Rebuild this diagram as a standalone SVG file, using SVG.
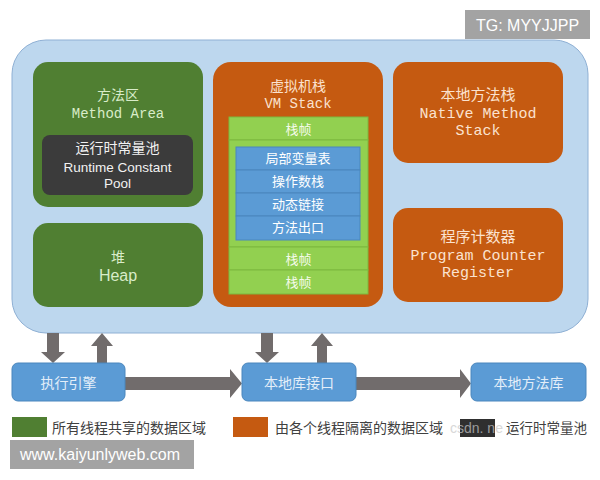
<svg xmlns="http://www.w3.org/2000/svg" width="600" height="480" viewBox="0 0 600 480">
<style>
.cjk{font-family:"Noto Sans CJK SC","Noto Sans",sans-serif;}
.mono{font-family:"Liberation Mono","DejaVu Sans Mono","Noto Sans CJK SC",monospace;}
.sans{font-family:"Liberation Sans","Noto Sans CJK SC",sans-serif;}
.green{fill:#507f32;}
.orange{fill:#c55a11;}
.gtxt{fill:#d9ecc9;}
.otxt{fill:#fbe2cf;}
.blue{fill:#5b9bd5;stroke:#4a86bd;stroke-width:1;}
.lg{fill:#92d050;stroke:#7cb83e;stroke-width:1;}
.arrow{fill:#716c6c;}
.wm{fill:#a3a3a3;}
</style>
<rect width="600" height="480" fill="#ffffff"/>
<g id="tg">
<rect x="465" y="10" width="125" height="29" class="wm"/>
<text x="527.5" y="31" text-anchor="middle" class="sans" font-size="16" fill="#ffffff">TG: MYYJJPP</text>
</g>
<g id="runtime-area">
<rect x="12" y="40" width="576" height="293" rx="34" fill="#bdd7ee" stroke="#8fb0d4" stroke-width="1"/>
</g>
<g id="method-area">
<rect x="33" y="62" width="170" height="145" rx="15" class="green"/>
<text x="118" y="100" text-anchor="middle" class="cjk gtxt" font-size="14">方法区</text>
<text x="118" y="118" text-anchor="middle" class="mono gtxt" font-size="14">Method Area</text>
</g>
<g id="constant-pool">
<rect x="42" y="135" width="151" height="60" rx="8" fill="#3b3b3b"/>
<text x="117.5" y="153" text-anchor="middle" class="cjk" font-size="14" fill="#f2f2f2">运行时常量池</text>
<text x="117.5" y="172" text-anchor="middle" class="sans" font-size="13.5" fill="#f2f2f2">Runtime Constant</text>
<text x="117.5" y="188" text-anchor="middle" class="sans" font-size="13.5" fill="#f2f2f2">Pool</text>
</g>
<g id="heap">
<rect x="33" y="223" width="170" height="84" rx="15" class="green"/>
<text x="118" y="262" text-anchor="middle" class="cjk gtxt" font-size="14">堆</text>
<text x="118" y="281" text-anchor="middle" class="sans gtxt" font-size="16">Heap</text>
</g>
<g id="vm-stack">
<rect x="213" y="62" width="170" height="245" rx="18" class="orange"/>
<text x="298" y="91" text-anchor="middle" class="cjk otxt" font-size="14">虚拟机栈</text>
<text x="298" y="108" text-anchor="middle" class="mono otxt" font-size="14">VM Stack</text>
<rect x="229" y="117" width="139" height="23" class="lg"/>
<text x="298.5" y="134" text-anchor="middle" class="cjk" font-size="13" fill="#f4fbe9">栈帧</text>
<rect x="229" y="140" width="139" height="107" class="lg"/>
<rect x="236" y="147" width="124" height="23" class="blue"/>
<text x="298" y="163" text-anchor="middle" class="cjk" font-size="13" fill="#ffffff">局部变量表</text>
<rect x="236" y="170" width="124" height="23" class="blue"/>
<text x="298" y="186" text-anchor="middle" class="cjk" font-size="13" fill="#ffffff">操作数栈</text>
<rect x="236" y="193" width="124" height="23" class="blue"/>
<text x="298" y="209" text-anchor="middle" class="cjk" font-size="13" fill="#ffffff">动态链接</text>
<rect x="236" y="216" width="124" height="24" class="blue"/>
<text x="298" y="232" text-anchor="middle" class="cjk" font-size="13" fill="#ffffff">方法出口</text>
<rect x="229" y="247" width="139" height="23" class="lg"/>
<text x="298.5" y="264" text-anchor="middle" class="cjk" font-size="13" fill="#f4fbe9">栈帧</text>
<rect x="229" y="270" width="139" height="24" class="lg"/>
<text x="298.5" y="287" text-anchor="middle" class="cjk" font-size="13" fill="#f4fbe9">栈帧</text>
</g>
<g id="native-method-stack">
<rect x="393" y="62" width="170" height="101" rx="15" class="orange"/>
<text x="478" y="100" text-anchor="middle" class="cjk otxt" font-size="15">本地方法栈</text>
<text x="478" y="118" text-anchor="middle" class="mono otxt" font-size="15">Native Method</text>
<text x="478" y="135" text-anchor="middle" class="mono otxt" font-size="15">Stack</text>
</g>
<g id="program-counter">
<rect x="393" y="208" width="170" height="94" rx="15" class="orange"/>
<text x="478" y="242" text-anchor="middle" class="cjk otxt" font-size="15">程序计数器</text>
<text x="478" y="260" text-anchor="middle" class="mono otxt" font-size="15">Program Counter</text>
<text x="478" y="277" text-anchor="middle" class="mono otxt" font-size="15">Register</text>
</g>
<g id="connectors">
<polygon class="arrow" points="47,333 59,333 59,352 65,352 53,363 41,352 47,352"/>
<polygon class="arrow" points="102,333 113,346 107,346 107,363 97,363 97,346 91,346"/>
<polygon class="arrow" points="261,333 273,333 273,352 279,352 267,363 255,352 261,352"/>
<polygon class="arrow" points="322,333 333,346 327,346 327,363 317,363 317,346 311,346"/>
<polygon class="arrow" points="125,377 230,377 230,369 242,383.5 230,398 230,390 125,390"/>
<polygon class="arrow" points="356,377 460,377 460,369 471,383.5 460,398 460,390 356,390"/>
</g>
<g id="execution-engine">
<rect x="12" y="363" width="113" height="38" rx="6" fill="#5b9bd5" stroke="#4a86bd" stroke-width="1"/>
<text x="68.5" y="388" text-anchor="middle" class="cjk" font-size="14" fill="#e3eef9">执行引擎</text>
</g>
<g id="native-interface">
<rect x="242" y="363" width="114" height="38" rx="6" fill="#5b9bd5" stroke="#4a86bd" stroke-width="1"/>
<text x="299" y="388" text-anchor="middle" class="cjk" font-size="14" fill="#e3eef9">本地库接口</text>
</g>
<g id="native-library">
<rect x="471" y="363" width="115" height="38" rx="6" fill="#5b9bd5" stroke="#4a86bd" stroke-width="1"/>
<text x="528.5" y="388" text-anchor="middle" class="cjk" font-size="14" fill="#e3eef9">本地方法库</text>
</g>
<g id="legend">
<rect x="12" y="417" width="35" height="20" fill="#507f32"/>
<text x="52" y="433" class="cjk" font-size="14" fill="#404040">所有线程共享的数据区域</text>
<rect x="233" y="417" width="35" height="20" fill="#c55a11"/>
<text x="275" y="433" class="cjk" font-size="14" fill="#404040">由各个线程隔离的数据区域</text>
<rect x="460" y="419" width="35" height="18" fill="#2f2f2f"/>
<text x="450" y="433" class="sans" font-size="14" fill="#c8c8c8" opacity="0.7">csdn. ne</text>
<text x="506" y="433" class="cjk" font-size="13.5" fill="#404040">运行时常量池</text>
</g>
<g id="site">
<rect x="10" y="440" width="184" height="29" class="wm"/>
<text x="20" y="460" class="sans" font-size="16" fill="#ffffff">www.kaiyunlyweb.com</text>
</g>
</svg>
